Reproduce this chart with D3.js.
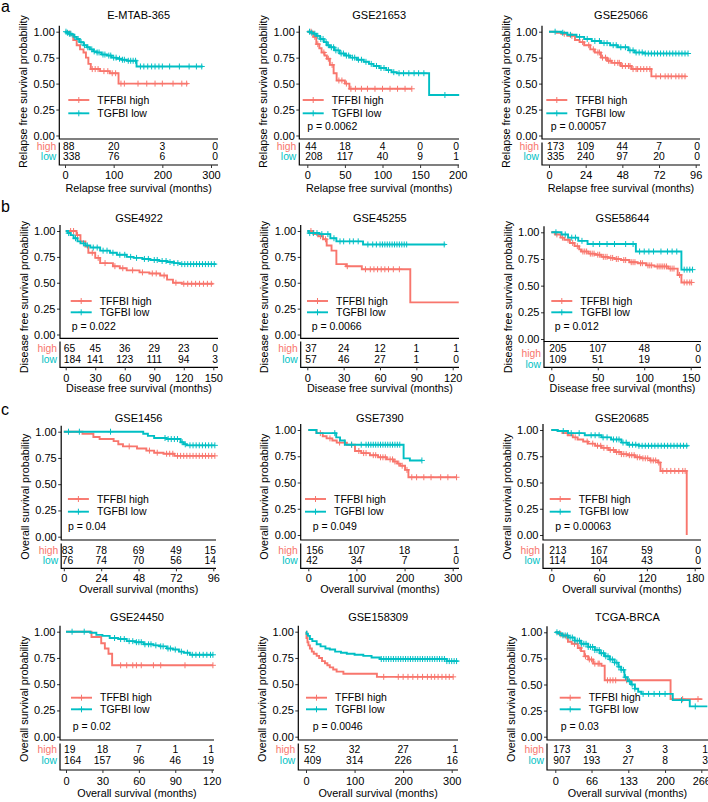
<!DOCTYPE html>
<html><head><meta charset="utf-8">
<script src="https://cdn.jsdelivr.net/npm/d3@7"></script>
<style>
body{margin:0;background:#fff}
svg{display:block}
</style>
</head><body>
<svg id="chart" width="708" height="802"></svg>
<script>
// ---------------- DATA ----------------
const RED = "#F8766D", TEAL = "#00BFC4";
const Y_TICKS = [0, 0.25, 0.5, 0.75, 1];
const GROUP_LABELS = ["high", "low"];
const LEGEND_LABELS = ["TFFBI high", "TGFBI low"];
const Y_TITLES = ["Relapse free survival probability", "Disease free survival probability", "Overall survival probability", "Overall survival probability"];
const X_TITLES = ["Relapse free survival (months)", "Disease free survival (months)", "Overall survival (months)", "Overall survival (months)"];
const ROW_LETTERS = ["a", "b", "c"];

// E-MTAB-365
const emtabTicks = [0, 100, 200, 300];
const emtabHigh = [[0,1],[10,0.97],[17,0.92],[24,0.87],[31,0.83],[38,0.8],[43,0.75],[48,0.69],[53,0.64],[72,0.62],[92,0.6],[110,0.5],[253,0.5]];
const emtabHighCens = [56,62,68,80,88,97,104,115,122,150,168,185,200,222,240,250];
const emtabLow = [[0,1],[3,0.99],[8,0.98],[14,0.97],[19,0.95],[24,0.93],[30,0.9],[38,0.87],[45,0.85],[51,0.83],[58,0.81],[65,0.8],[75,0.78],[86,0.77],[96,0.75],[106,0.74],[116,0.73],[127,0.72],[147,0.665],[283,0.665]];
const emtabLowCens = [2,5,9,12,20,27,33,40,47,55,60,66,70,78,82,90,94,100,105,112,118,122,130,135,140,145,155,162,170,178,185,193,200,215,235,255,270,281];
const emtabRiskHigh = [88, 20, 3, 0];
const emtabRiskLow = [338, 76, 6, 0];

// GSE21653
const g21653Ticks = [0, 50, 100, 150, 200];
const g21653High = [[0,1],[8,0.95],[12,0.88],[16,0.84],[19,0.8],[23,0.77],[26,0.74],[30,0.68],[35,0.6],[39,0.53],[50,0.5],[56,0.45],[139,0.45]];
const g21653HighCens = [5,10,14,22,28,33,42,46,52,58,64,72,80,90,100,110,120,130,139];
const g21653Low = [[0,1],[5,0.99],[8,0.98],[12,0.96],[17,0.93],[22,0.9],[26,0.87],[30,0.85],[36,0.82],[43,0.79],[50,0.77],[57,0.75],[66,0.73],[75,0.71],[82,0.69],[88,0.67],[96,0.65],[105,0.63],[112,0.61],[119,0.6],[162,0.39],[202,0.39]];
const g21653LowCens = [3,6,10,14,18,21,25,28,32,35,38,41,45,48,52,55,60,63,68,72,78,85,92,98,102,108,115,122,128,135,142,148,155,183];
const g21653RiskHigh = [44, 18, 4, 0, 0];
const g21653RiskLow = [208, 117, 40, 9, 1];

// GSE25066
const g25066Ticks = [0, 24, 48, 72, 96];
const g25066High = [[0,1],[5,0.99],[8,0.98],[12,0.96],[17,0.92],[20,0.9],[23,0.87],[27,0.83],[30,0.8],[34,0.75],[38,0.72],[41,0.7],[47,0.67],[54,0.64],[67,0.57],[90,0.57]];
const g25066HighCens = [10,15,22,26,29,32,33,35,37,39,40,43,45,46,48,50,52,53,55,57,58,60,62,64,66,70,73,76,78,80,83,85,87,89];
const g25066Low = [[0,1],[8,0.99],[12,0.97],[18,0.95],[23,0.93],[28,0.91],[34,0.89],[40,0.87],[45,0.85],[52,0.82],[56,0.8],[62,0.79],[91,0.79]];
const g25066LowCens = [4,9,14,20,25,30,33,36,38,42,44,47,50,53,55,57,59,61,63,65,67,69,71,73,75,77,79,81,83,85,87,89,91];
const g25066RiskHigh = [173, 109, 44, 7, 0];
const g25066RiskLow = [335, 240, 97, 20, 0];

// GSE4922
const g4922Ticks = [0, 30, 60, 90, 120, 150];
const g4922High = [[0,1],[11,0.96],[15,0.9],[20,0.85],[23,0.79],[30,0.74],[35,0.69],[48,0.66],[55,0.64],[62,0.62],[75,0.6],[85,0.59],[96,0.57],[103,0.53],[109,0.5],[118,0.49],[150,0.49]];
const g4922HighCens = [5,8,12,27,33,40,50,58,68,78,88,92,100,112,120,124,128,132,136,140,144,148];
const g4922Low = [[0,1],[2,0.98],[5,0.96],[8,0.93],[12,0.9],[15,0.88],[20,0.86],[25,0.84],[35,0.81],[45,0.79],[52,0.77],[62,0.75],[69,0.74],[78,0.73],[86,0.72],[95,0.71],[103,0.7],[110,0.69],[116,0.68],[153,0.68]];
const g4922LowCens = [3,10,18,22,28,32,38,42,48,55,60,66,72,80,84,90,93,98,102,106,110,114,118,121,124,127,130,133,136,139,142,145,148,151];
const g4922RiskHigh = [65, 45, 36, 29, 23, 0];
const g4922RiskLow = [184, 141, 123, 111, 94, 3];

// GSE45255
const g45255Ticks = [0, 30, 60, 90, 120];
const g45255High = [[0,1],[5,0.97],[9,0.95],[13,0.92],[16,0.86],[20,0.81],[24,0.68],[32,0.66],[45,0.63],[85,0.31],[125,0.31]];
const g45255HighCens = [3,11,15,33,48,52,55,58,61,64,67,71,76];
const g45255Low = [[0,1],[1,0.98],[10,0.97],[19,0.93],[24,0.9],[46,0.87],[114,0.87]];
const g45255LowCens = [2,5,8,12,17,22,27,30,35,38,42,50,54,57,60,62,64,66,68,70,72,74,76,78,80,82,113];
const g45255RiskHigh = [37, 24, 12, 1, 1];
const g45255RiskLow = [57, 46, 27, 1, 0];

// GSE58644
const g58644Ticks = [0, 50, 100, 150];
const g58644High = [[0,1],[4,0.98],[10,0.95],[14,0.93],[20,0.9],[25,0.87],[30,0.84],[32,0.82],[40,0.8],[47,0.79],[54,0.77],[61,0.76],[68,0.75],[75,0.74],[84,0.72],[93,0.71],[102,0.69],[111,0.68],[126,0.66],[136,0.6],[140,0.53],[151,0.53]];
const g58644HighCens = [6,12,18,23,28,34,36,38,42,44,46,50,52,56,58,60,64,66,70,72,78,80,86,88,90,96,98,104,106,108,114,116,118,120,122,124,128,130,132,138,143,146,149,151];
const g58644Low = [[0,1],[11,0.98],[18,0.95],[29,0.92],[39,0.89],[91,0.82],[140,0.65],[152,0.65]];
const g58644LowCens = [5,15,22,26,33,45,52,60,68,80,88,95,100,105,110,118,125,130,135,143,146,149,152];
const g58644RiskHigh = [205, 107, 48, 0];
const g58644RiskLow = [109, 51, 19, 0];

// GSE1456
const g1456Ticks = [0, 24, 48, 72, 96];
const g1456High = [[0,1],[12,0.98],[19,0.95],[23,0.93],[32,0.91],[35,0.88],[38,0.86],[47,0.84],[53,0.82],[58,0.8],[64,0.79],[71,0.77],[97,0.77]];
const g1456HighCens = [42,55,60,66,68,70,73,75,77,79,81,83,85,87,89,91,93,95,97];
const g1456Low = [[0,1],[51,0.98],[54,0.96],[58,0.94],[66,0.93],[75,0.9],[77,0.88],[79,0.87],[97,0.87]];
const g1456LowCens = [3,10,30,65,67,69,71,73,76,78,81,83,85,87,89,91,93,95,97];
const g1456RiskHigh = [83, 78, 69, 49, 15];
const g1456RiskLow = [76, 74, 70, 56, 14];

// GSE7390
const g7390Ticks = [0, 100, 200, 300];
const g7390High = [[0,1],[17,0.97],[30,0.94],[38,0.92],[50,0.9],[59,0.88],[80,0.86],[97,0.8],[110,0.78],[128,0.76],[145,0.74],[163,0.72],[177,0.7],[185,0.68],[191,0.66],[201,0.62],[208,0.55],[308,0.55]];
const g7390HighCens = [25,45,65,75,90,105,115,120,135,140,150,155,160,170,175,180,188,195,205,215,225,240,255,275,290,308];
const g7390Low = [[0,1],[17,0.97],[58,0.93],[66,0.9],[76,0.86],[198,0.73],[211,0.71],[236,0.71]];
const g7390LowCens = [55,90,110,120,125,130,135,140,145,150,155,160,165,170,175,180,185,190,236];
const g7390RiskHigh = [156, 107, 18, 1];
const g7390RiskLow = [42, 34, 7, 0];

// GSE20685
const g20685Ticks = [0, 60, 120, 180];
const g20685High = [[0,1],[8,0.99],[14,0.97],[21,0.95],[27,0.93],[33,0.91],[40,0.89],[46,0.87],[55,0.85],[63,0.83],[72,0.81],[80,0.79],[88,0.77],[96,0.76],[105,0.74],[113,0.73],[124,0.71],[134,0.69],[137,0.61],[170,0]];
const g20685HighCens = [20,30,45,52,58,62,66,70,74,78,82,85,88,91,94,98,101,104,108,111,115,118,121,125,128,131,135,140,145,150,155,160,165,168];
const g20685Low = [[0,1],[8,0.99],[21,0.97],[42,0.95],[63,0.93],[75,0.91],[88,0.88],[96,0.86],[110,0.85],[172,0.85]];
const g20685LowCens = [15,25,35,50,55,60,65,70,78,82,85,90,94,98,102,106,110,114,118,122,126,130,134,138,142,146,150,154,158,162,166,170];
const g20685RiskHigh = [213, 167, 59, 0];
const g20685RiskLow = [114, 104, 43, 0];

// GSE24450
const g24450Ticks = [0, 30, 60, 90, 120];
const g24450High = [[0,1],[21,0.95],[29,0.89],[32,0.84],[35,0.79],[38,0.68],[121,0.68]];
const g24450HighCens = [45,50,55,58,62,72,78,98,121];
const g24450Low = [[0,1],[20,0.99],[25,0.97],[30,0.96],[36,0.94],[43,0.93],[50,0.91],[57,0.9],[64,0.88],[72,0.87],[77,0.86],[83,0.84],[88,0.83],[93,0.81],[97,0.8],[102,0.78],[121,0.78]];
const g24450LowCens = [5,15,40,45,48,52,55,58,60,62,65,68,70,74,78,80,84,86,90,95,100,104,107,110,113,116,119,121];
const g24450RiskHigh = [19, 18, 7, 1, 1];
const g24450RiskLow = [164, 157, 96, 46, 19];

// GSE158309
const g158309Ticks = [0, 100, 200, 300];
const g158309High = [[0,1],[1,0.94],[3,0.9],[5,0.87],[8,0.84],[12,0.81],[16,0.79],[22,0.77],[27,0.75],[33,0.72],[39,0.7],[44,0.68],[49,0.66],[56,0.64],[63,0.62],[77,0.6],[146,0.57],[303,0.57]];
const g158309HighCens = [160,190,200,210,220,230,240,250,258,265,272,280,288,295,303];
const g158309Low = [[0,1],[1,0.98],[4,0.96],[8,0.93],[13,0.91],[22,0.88],[30,0.86],[40,0.84],[49,0.83],[60,0.81],[72,0.8],[84,0.79],[100,0.78],[118,0.77],[135,0.755],[152,0.74],[290,0.72],[314,0.72]];
const g158309LowCens = [155,160,165,170,175,180,185,190,195,200,205,210,215,220,225,230,235,240,245,250,255,260,265,270,275,280,285,290,295,300,305,310];
const g158309RiskHigh = [52, 32, 27, 1];
const g158309RiskLow = [409, 314, 226, 16];

// TCGA-BRCA
const tcgaTicks = [0, 66, 133, 200, 266];
const tcgaHigh = [[0,1],[8,0.98],[15,0.96],[23,0.91],[30,0.89],[41,0.85],[47,0.82],[53,0.77],[60,0.74],[69,0.7],[84,0.68],[90,0.54],[210,0.36],[268,0.36]];
const tcgaHighCens = [10,20,35,45,55,62,66,72,78,80,95,100,105,110,130,232,260];
const tcgaLow = [[0,1],[5,0.99],[12,0.97],[23,0.95],[35,0.92],[47,0.89],[60,0.86],[72,0.83],[81,0.8],[90,0.77],[99,0.74],[108,0.71],[115,0.67],[120,0.64],[126,0.57],[132,0.53],[138,0.5],[145,0.46],[151,0.43],[157,0.41],[214,0.35],[245,0.29],[277,0.29]];
const tcgaLowCens = [3,8,14,18,22,27,31,36,40,44,48,52,56,60,64,68,72,76,80,84,88,92,96,100,104,108,112,116,120,124,128,135,140,145,160,170,180,190,200,230,255];
const tcgaRiskHigh = [173, 31, 3, 3, 1];
const tcgaRiskLow = [907, 193, 27, 8, 3];

const titles = ["E-MTAB-365","GSE21653","GSE25066","GSE4922","GSE45255","GSE58644","GSE1456","GSE7390","GSE20685","GSE24450","GSE158309","TCGA-BRCA"];
const pValues = [null,"p = 0.0062","p = 0.00057","p = 0.022","p = 0.0066","p = 0.012","p = 0.04","p = 0.049","p = 0.00063","p = 0.02","p = 0.0046","p = 0.03"];

// ---------------- LAYOUT ----------------
const FONT = "'Liberation Sans', Arial, Helvetica, sans-serif";
const FS_TICK = 11, FS_TITLE = 11, FS_AXT = 10.8, FS_LEG = 10.5, FS_TAB = 10.3;
const rows = [
  {title:15, y1:31.7, y0:135.5, axisY:139, tTop:142.5, r1:146.7, r2:156.7, tBot:165, tickY:175.5, xTitle:188.5, yTitleC:91.5, leg1:100, leg2:113.3, pY:126.7, letterY:12},
  {title:217.7, y1:231, y0:334.5, axisY:338.3, tTop:341.5, r1:348.7, r2:359, tBot:367.3, tickY:377.8, xTitle:388.6, yTitleC:297, leg1:301, leg2:312.3, pY:326.7, letterY:212},
  {title:417.7, y1:431, y0:536, axisY:540, tTop:543.5, r1:550.7, r2:560.7, tBot:568.3, tickY:578.3, xTitle:589.3, yTitleC:496.7, leg1:499, leg2:511.7, pY:526.7, letterY:415},
  {title:616.7, y1:631.7, y0:736.7, axisY:740, tTop:743.5, r1:749.5, r2:760.5, tBot:770, tickY:781.5, xTitle:793, yTitleC:699, leg1:697.7, leg2:709.3, pY:726.7}
];
const seriesSets = [
  [emtabTicks, emtabHigh, emtabHighCens, emtabLow, emtabLowCens, emtabRiskHigh, emtabRiskLow],
  [g21653Ticks, g21653High, g21653HighCens, g21653Low, g21653LowCens, g21653RiskHigh, g21653RiskLow],
  [g25066Ticks, g25066High, g25066HighCens, g25066Low, g25066LowCens, g25066RiskHigh, g25066RiskLow],
  [g4922Ticks, g4922High, g4922HighCens, g4922Low, g4922LowCens, g4922RiskHigh, g4922RiskLow],
  [g45255Ticks, g45255High, g45255HighCens, g45255Low, g45255LowCens, g45255RiskHigh, g45255RiskLow],
  [g58644Ticks, g58644High, g58644HighCens, g58644Low, g58644LowCens, g58644RiskHigh, g58644RiskLow],
  [g1456Ticks, g1456High, g1456HighCens, g1456Low, g1456LowCens, g1456RiskHigh, g1456RiskLow],
  [g7390Ticks, g7390High, g7390HighCens, g7390Low, g7390LowCens, g7390RiskHigh, g7390RiskLow],
  [g20685Ticks, g20685High, g20685HighCens, g20685Low, g20685LowCens, g20685RiskHigh, g20685RiskLow],
  [g24450Ticks, g24450High, g24450HighCens, g24450Low, g24450LowCens, g24450RiskHigh, g24450RiskLow],
  [g158309Ticks, g158309High, g158309HighCens, g158309Low, g158309LowCens, g158309RiskHigh, g158309RiskLow],
  [tcgaTicks, tcgaHigh, tcgaHighCens, tcgaLow, tcgaLowCens, tcgaRiskHigh, tcgaRiskLow]
];
// per panel geometry: axis x, pixel of first tick, pixel of last tick, right end, legend offset, p offset
const geo = [
  {axisX:59.3, px0:65, pxN:211, right:218, leg:9, pOff:0},
  {axisX:299.3, px0:307.3, pxN:457.7, right:459, leg:3.4, pOff:8},
  {axisX:542, px0:549, pxN:695.7, right:700, leg:4.3, pOff:8.7},
  {axisX:60, px0:65.7, pxN:213.3, right:218, leg:10.7, pOff:11.7},
  {axisX:300.7, px0:307.3, pxN:452.7, right:459, leg:6.3, pOff:11},
  {axisX:544, px0:551.3, pxN:690.7, right:701, leg:7.3, pOff:10.7, y1:232.3, y0:339, axisY:341.5, labShift:5},
  {axisX:61.2, px0:63.8, pxN:213.3, right:216, leg:6.7, pOff:6.7, y1:431.7, y0:536.7},
  {axisX:300.7, px0:308.3, pxN:452.7, right:459, leg:4.3, pOff:12, y1:430, y0:535},
  {axisX:543, px0:551.3, pxN:694.7, right:701, leg:6.7, pOff:12.3, y1:430, y0:535},
  {axisX:60, px0:66, pxN:211.7, right:214, leg:11, pOff:12.7},
  {axisX:298.3, px0:306, pxN:451.7, right:458, leg:7.7, pOff:14.4},
  {axisX:547, px0:555.3, pxN:701.3, right:708, leg:12.7, pOff:13.7, y1:632.3}
];

// ---------------- DRAW ----------------
const svg = d3.select("#chart").attr("font-family", FONT);
function stepVal(steps, t) {
  let v = steps[0][1];
  for (const [tt, s] of steps) { if (tt <= t) v = s; else break; }
  return v;
}
const PLUS = "M-3,0H3M0,-3V3";

ROW_LETTERS.forEach((l, i) => {
  svg.append("text").attr("x", 1).attr("y", rows[i].letterY).attr("font-size", 16).text(l);
});

titles.forEach((title, i) => {
  const r = rows[Math.floor(i / 3)];
  const gm = geo[i];
  const [ticks, high, highC, low, lowC, riskH, riskL] = seriesSets[i];
  const y1 = gm.y1 ?? r.y1, y0 = gm.y0 ?? r.y0, axisY = gm.axisY ?? r.axisY;
  const labShift = gm.labShift ?? 0;
  const g = svg.append("g");
  const x = d3.scaleLinear().domain([ticks[0], ticks[ticks.length - 1]]).range([gm.px0, gm.pxN]);
  const y = d3.scaleLinear().domain([0, 1]).range([y0, y1]);
  const cx = (gm.axisX + gm.right) / 2;

  g.append("text").attr("x", cx).attr("y", r.title).attr("dy", "0.35em")
    .attr("text-anchor", "middle").attr("font-size", FS_TITLE).text(title);

  // y axis
  const ya = g.append("g").attr("transform", `translate(${gm.axisX},0)`)
    .call(d3.axisLeft(y).tickValues(Y_TICKS).tickFormat(d3.format(".2f")).tickSize(3).tickPadding(1.5));
  ya.select(".domain").remove();
  ya.attr("font-family", FONT).attr("font-size", FS_TICK);
  ya.selectAll("line").attr("stroke", "#333");

  // plot frame (L-shape)
  g.append("path").attr("d", `M${gm.axisX},${y1 - 6}V${axisY}H${gm.right}`)
    .attr("fill", "none").attr("stroke", "#000").attr("stroke-width", 1.2);
  // risk table frame
  g.append("path").attr("d", `M${gm.axisX},${r.tTop}V${r.tBot}H${gm.right}`)
    .attr("fill", "none").attr("stroke", "#000").attr("stroke-width", 1.2);

  // x axis under table
  const xa = g.append("g").attr("transform", `translate(0,${r.tBot})`)
    .call(d3.axisBottom(x).tickValues(ticks).tickFormat(d3.format("d")).tickSize(3));
  xa.select(".domain").remove();
  xa.attr("font-family", FONT).attr("font-size", FS_TICK);
  xa.selectAll("line").attr("stroke", "#333");
  xa.selectAll("text").attr("y", r.tickY - r.tBot).attr("dy", "0.35em");

  // axis titles
  g.append("text").attr("x", cx).attr("y", r.xTitle).attr("dy", "0.35em")
    .attr("text-anchor", "middle").attr("font-size", FS_AXT).text(X_TITLES[Math.floor(i / 3)]);
  g.append("text").attr("transform", `translate(${gm.axisX - 36},${r.yTitleC}) rotate(-90)`)
    .attr("dy", "0.35em").attr("text-anchor", "middle").attr("font-size", FS_AXT)
    .text(Y_TITLES[Math.floor(i / 3)]);

  // curves
  const line = d3.line().x(d => x(d[0])).y(d => y(d[1])).curve(d3.curveStepAfter);
  [[high, highC, RED], [low, lowC, TEAL]].forEach(([steps, cens, col]) => {
    g.append("path").datum(steps).attr("d", line).attr("fill", "none")
      .attr("stroke", col).attr("stroke-width", 1.9);
    g.selectAll(null).data(cens).enter().append("path")
      .attr("transform", t => `translate(${x(t)},${y(stepVal(steps, t))})`)
      .attr("d", PLUS).attr("stroke", col).attr("stroke-width", 1).attr("fill", "none");
  });

  // legend
  [[r.leg1, RED, LEGEND_LABELS[0]], [r.leg2, TEAL, LEGEND_LABELS[1]]].forEach(([ly, col, lab]) => {
    const lx = gm.axisX + gm.leg;
    g.append("line").attr("x1", lx).attr("x2", lx + 21).attr("y1", ly).attr("y2", ly)
      .attr("stroke", col).attr("stroke-width", 1.9);
    g.append("path").attr("transform", `translate(${lx + 10.5},${ly})`).attr("d", PLUS)
      .attr("stroke", col).attr("stroke-width", 1);
    g.append("text").attr("x", lx + 29).attr("y", ly).attr("dy", "0.35em")
      .attr("font-size", FS_LEG).text(lab);
  });
  if (pValues[i]) {
    g.append("text").attr("x", gm.axisX + gm.pOff).attr("y", r.pY).attr("dy", "0.35em")
      .attr("font-size", FS_LEG).text(pValues[i]);
  }

  // risk table
  [[r.r1, RED, GROUP_LABELS[0], riskH], [r.r2, TEAL, GROUP_LABELS[1], riskL]].forEach(([ry, col, lab, vals]) => {
    g.append("text").attr("x", gm.axisX - 3).attr("y", ry + labShift).attr("dy", "0.35em")
      .attr("text-anchor", "end").attr("font-size", FS_TAB).attr("fill", col).text(lab);
    g.selectAll(null).data(vals).enter().append("text")
      .attr("x", (v, k) => k === 0 ? x(ticks[k]) - 2 : (k === vals.length - 1 ? gm.right : x(ticks[k])))
      .attr("text-anchor", (v, k) => k === 0 ? "start" : (k === vals.length - 1 ? "end" : "middle"))
      .attr("y", ry).attr("dy", "0.35em").attr("font-size", FS_TAB).text(v => v);
  });
});
</script>
</body></html>
